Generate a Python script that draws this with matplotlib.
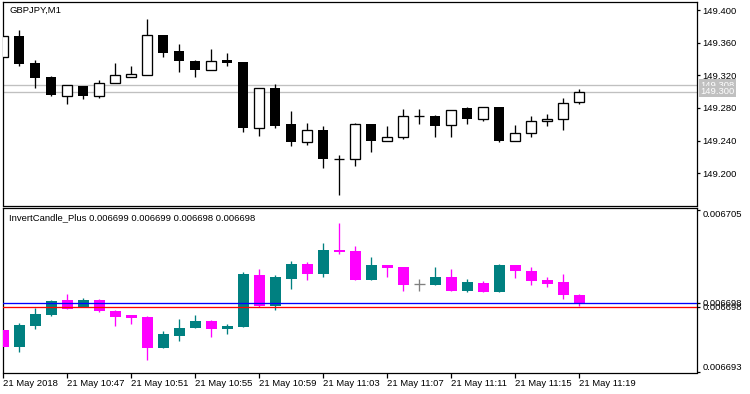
import numpy as np
import matplotlib
matplotlib.use('Agg')
import matplotlib.pyplot as plt
from matplotlib.transforms import blended_transform_factory

# GBPJPY M1 candles, 10:43 .. 11:19 (main window)
top_open = [149.342, 149.368, 149.335, 149.318, 149.295, 149.307, 149.295, 149.311, 149.318, 149.321,
            149.369, 149.350, 149.338, 149.327, 149.339, 149.336, 149.255, 149.304, 149.260, 149.238,
            149.253, 149.217, 149.217, 149.261, 149.239, 149.244, 149.270, 149.270, 149.259, 149.280,
            149.267, 149.281, 149.239, 149.249, 149.264, 149.266, 149.287]
top_high = [149.368, 149.376, 149.339, 149.319, 149.308, 149.307, 149.314, 149.335, 149.331, 149.389,
            149.369, 149.358, 149.339, 149.352, 149.347, 149.336, 149.304, 149.309, 149.276, 149.262,
            149.258, 149.222, 149.262, 149.261, 149.258, 149.279, 149.279, 149.271, 149.278, 149.281,
            149.281, 149.281, 149.259, 149.270, 149.273, 149.292, 149.303]
top_low = [149.342, 149.331, 149.305, 149.295, 149.285, 149.291, 149.292, 149.310, 149.318, 149.320,
           149.342, 149.324, 149.318, 149.326, 149.332, 149.250, 149.246, 149.255, 149.233, 149.235,
           149.206, 149.173, 149.209, 149.226, 149.239, 149.242, 149.261, 149.244, 149.245, 149.261,
           149.264, 149.238, 149.239, 149.244, 149.258, 149.253, 149.285]
top_close = [149.368, 149.334, 149.317, 149.296, 149.308, 149.295, 149.311, 149.320, 149.322, 149.369,
             149.347, 149.338, 149.327, 149.338, 149.335, 149.255, 149.304, 149.258, 149.238, 149.253,
             149.217, 149.217, 149.261, 149.239, 149.244, 149.270, 149.270, 149.258, 149.278, 149.266,
             149.281, 149.239, 149.249, 149.264, 149.267, 149.286, 149.300]

# InvertCandle_Plus subwindow
inv_open = [0.00669609, 0.00669485, 0.00669641, 0.00669722, 0.00669831, 0.00669779, 0.00669831, 0.00669750,
            0.00669720, 0.00669705, 0.00669476, 0.00669564, 0.00669624, 0.00669676, 0.00669619, 0.00669631,
            0.00670016, 0.00669789, 0.00669989, 0.00670098, 0.00670024, 0.00670204, 0.00670194, 0.00669979,
            0.00670090, 0.00670076, 0.00669947, 0.00669942, 0.00670001, 0.00669898, 0.00669957, 0.00669890,
            0.00670090, 0.00670046, 0.00669979, 0.00669964, 0.00669868]
inv_high = [0.00669609, 0.00669659, 0.00669772, 0.00669831, 0.00669876, 0.00669844, 0.00669839, 0.00669757,
            0.00669720, 0.00669713, 0.00669601, 0.00669690, 0.00669720, 0.00669683, 0.00669653, 0.00670039,
            0.00670063, 0.00670016, 0.00670122, 0.00670113, 0.00670253, 0.00670404, 0.00670231, 0.00670150,
            0.00670090, 0.00670076, 0.00669987, 0.00670076, 0.00670061, 0.00669987, 0.00669972, 0.00670098,
            0.00670090, 0.00670076, 0.00670001, 0.00670024, 0.00669876]
inv_low = [0.00669485, 0.00669448, 0.00669619, 0.00669715, 0.00669767, 0.00669779, 0.00669740, 0.00669641,
           0.00669656, 0.00669387, 0.00669476, 0.00669527, 0.00669624, 0.00669559, 0.00669581, 0.00669631,
           0.00669781, 0.00669759, 0.00669915, 0.00669979, 0.00670004, 0.00670174, 0.00669979, 0.00669979,
           0.00670001, 0.00669898, 0.00669898, 0.00669942, 0.00669898, 0.00669890, 0.00669890, 0.00669890,
           0.00669994, 0.00669942, 0.00669927, 0.00669839, 0.00669787]
inv_close = [0.00669485, 0.00669646, 0.00669727, 0.00669821, 0.00669767, 0.00669831, 0.00669752, 0.00669707,
             0.00669700, 0.00669476, 0.00669579, 0.00669624, 0.00669676, 0.00669619, 0.00669639, 0.00670024,
             0.00669789, 0.00670001, 0.00670098, 0.00670024, 0.00670201, 0.00670189, 0.00669979, 0.00670090,
             0.00670070, 0.00669942, 0.00669947, 0.00670001, 0.00669898, 0.00669964, 0.00669890, 0.00670090,
             0.00670046, 0.00669972, 0.00669950, 0.00669868, 0.00669809]

bid_ask = [149.300, 149.308]
inv_lines = [0.0066981, 0.0066978]
header_values = ['0.006699', '0.006699', '0.006698', '0.006698']
x_labels = ['21 May 2018', '21 May 10:47', '21 May 10:51', '21 May 10:55', '21 May 10:59',
            '21 May 11:03', '21 May 11:07', '21 May 11:11', '21 May 11:15', '21 May 11:19']

FONT = 'Liberation Sans'
FS = 6.8
LW = 0.95  # thin one-pixel-ish lines


def draw_candles(ax, o, h, l, c, up_face, up_edge, down_face, down_edge, wick, flat, width):
    x = np.arange(len(o))
    for i in x:
        if c[i] > o[i]:
            face, edge, wc = up_face, up_edge, wick or up_face
        elif c[i] < o[i]:
            face, edge, wc = down_face, down_edge, wick or down_face
        else:
            face, edge, wc = flat, flat, flat
        ax.vlines(i, l[i], h[i], colors=wc, linewidth=LW, zorder=2)
        if c[i] == o[i]:
            ax.hlines(o[i], i - width / 2, i + width / 2, colors=wc, linewidth=LW, zorder=3)
        else:
            ax.bar(i, abs(c[i] - o[i]), bottom=min(o[i], c[i]), width=width,
                   facecolor=face, edgecolor=edge, linewidth=LW if edge != face else 0, zorder=3)


W, H = 750, 394
fig = plt.figure(figsize=(W / 100, H / 100), dpi=100)


def axes_px(left, top, right, bottom):
    return fig.add_axes([left / W, 1 - bottom / H, (right - left) / W, (bottom - top) / H])


ax1 = axes_px(3, 2, 697, 205.5)
ax2 = axes_px(3, 208.5, 697, 372.5)

for ax in (ax1, ax2):
    ax.set_xlim(-0.01, 43.365)
    for s in ax.spines.values():
        s.set_linewidth(0.9)
        s.set_color('black')
    ax.yaxis.tick_right()
    ax.tick_params(axis='y', direction='out', length=2.2, width=0.9, pad=1.5, labelsize=FS)

# main window
draw_candles(ax1, top_open, top_high, top_low, top_close,
             'white', 'black', 'black', 'black', 'black', 'black', 0.62)
ax1.set_ylim(149.1606, 149.4098)
ax1.set_yticks([149.200, 149.240, 149.280, 149.320, 149.360, 149.400])
ax1.set_yticklabels(['149.200', '149.240', '149.280', '149.320', '149.360', '149.400'],
                    fontfamily=FONT, fontsize=FS)
ax1.tick_params(axis='x', bottom=False, labelbottom=False)
for v in bid_ask:
    ax1.axhline(v, color='#C0C0C0', linewidth=LW, zorder=1)
tr1 = blended_transform_factory(ax1.transAxes, ax1.transData)
for v in sorted(bid_ask, reverse=True):
    ax1.text(1.0045, v, f'{v:.3f}', transform=tr1, ha='left', va='center', color='white',
             fontfamily=FONT, fontsize=FS, clip_on=False,
             bbox=dict(boxstyle='square,pad=0.12', facecolor='#C0C0C0', edgecolor='none'))
ax1.text(6 / 694, 1 - 8 / 203.5, 'GBPJPY,M1', transform=ax1.transAxes, ha='left', va='center',
         fontfamily=FONT, fontsize=FS)

# indicator window
draw_candles(ax2, inv_open, inv_high, inv_low, inv_close,
             '#008080', '#008080', '#FF00FF', '#FF00FF', None, '#808080', 0.68)
ax2.set_ylim(0.00669294, 0.00670509)
ax2.axhline(inv_lines[0], color='#0000FF', linewidth=LW, zorder=4)
ax2.axhline(inv_lines[1], color='#FF0000', linewidth=LW, zorder=4)
yt = [0.006693, inv_lines[1], inv_lines[0], 0.006705]
ax2.set_yticks(yt)
ax2.set_yticklabels([f'{v:.6f}' for v in yt], fontfamily=FONT, fontsize=FS)
labs = ax2.get_yticklabels()
labs[0].set_verticalalignment('bottom')
labs[-1].set_verticalalignment('top')
ax2.text(6 / 694, 1 - 9.5 / 164, 'InvertCandle_Plus ' + ' '.join(header_values),
         transform=ax2.transAxes, ha='left', va='center', fontfamily=FONT, fontsize=FS)

ax2.set_xticks(np.arange(0, 4 * len(x_labels), 4))
ax2.set_xticklabels(x_labels, fontfamily=FONT, fontsize=FS, ha='left')
ax2.tick_params(axis='x', direction='out', length=3.6, width=0.9, pad=1)

fig.savefig('out.png', dpi=100)
